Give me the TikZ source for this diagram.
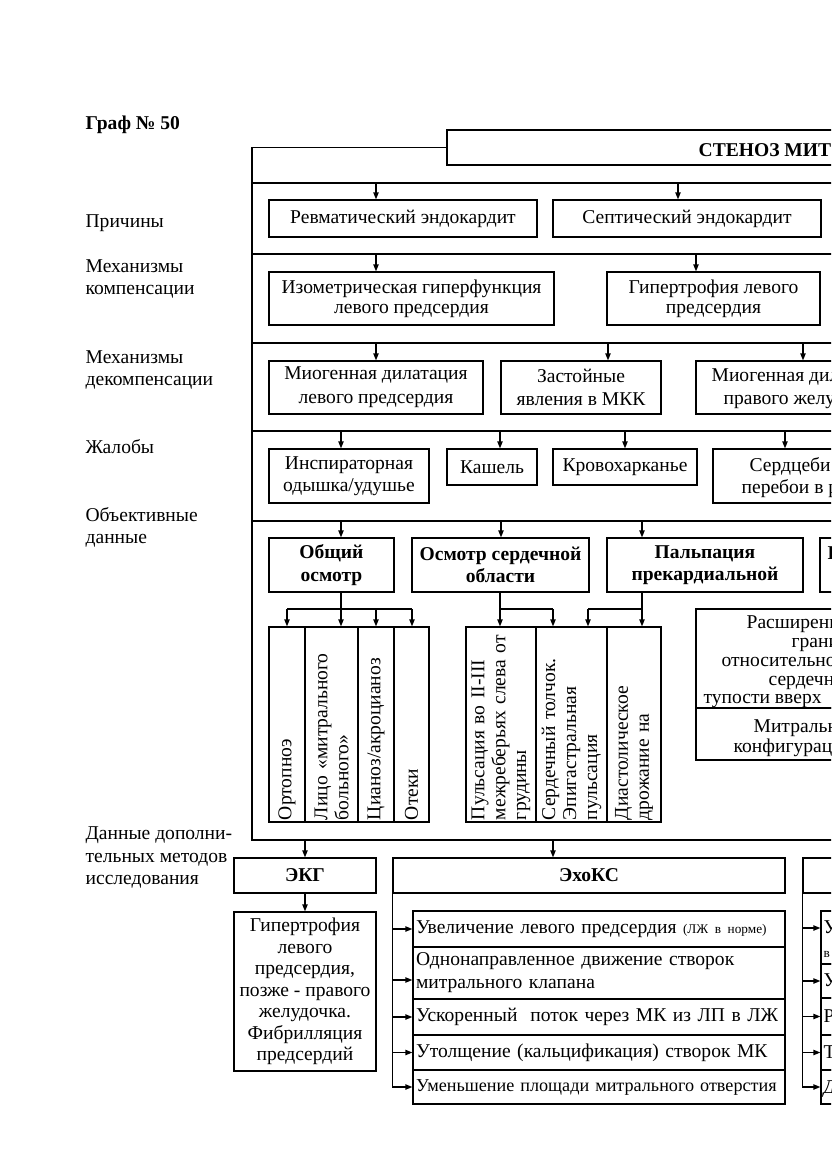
\documentclass[tikz,border=0pt]{standalone}
\usepackage{fontspec}
\setmainfont{Liberation Serif}[Ligatures=TeX]
\usetikzlibrary{arrows.meta}
\newcommand{\fsN}{\fontsize{14}{15.8}\selectfont}
\newcommand{\fsS}{\fontsize{14}{14.3}\selectfont}
\newcommand{\fsT}{\fontsize{14}{17}\selectfont}
\newcommand{\fsB}{\bfseries\fontsize{14}{16.2}\selectfont}
\newcommand{\fsE}{\fontsize{14}{15.4}\selectfont}
\newcommand{\fsR}{\fontsize{14}{15}\selectfont}
\newcommand{\bx}[7][]{%
  \pgfmathsetlengthmacro{\bxw}{(#5-#3)*0.716pt}%
  \pgfmathsetlengthmacro{\bxh}{(#6-#4)*0.716pt}%
  \node[boxst,minimum width=\bxw,minimum height=\bxh,#1] (#2) at ({(#3+#5)/2},{(#4+#6)/2}) {#7};}
\newcommand{\bxl}[7][]{%
  \pgfmathsetlengthmacro{\bxw}{(#5-#3)*0.716pt}%
  \pgfmathsetlengthmacro{\bxh}{(#6-#4)*0.716pt}%
  \pgfmathsetlengthmacro{\bxt}{(#5-#3-6)*0.716pt}%
  \node[boxst,align=left,minimum width=\bxw,minimum height=\bxh,text width=\bxt,#1] (#2) at ({(#3+#5)/2},{(#4+#6)/2}) {#7};}
\newcommand{\rtx}[4]{%
  \pgfmathsetlengthmacro{\bxt}{(#3)*0.716pt}%
  \node[rot,text width=\bxt] (#1) at (#2.center) {#4};}
\newcommand{\dar}[3]{\coordinate (#1) at (#2); \draw[arr] (#1) -- (#1 |- #3.north);}
\newcommand{\lab}[3]{\node[txt] (#1) at (#2) {#3};}
\begin{document}
\begin{tikzpicture}[x=0.716pt,y=-0.716pt,line width=0.9pt,
  boxst/.style={draw,line width=0.9pt,inner sep=0pt,align=center,font=\fsN},
  arr/.style={-{Triangle[length=5pt,width=3.8pt]}},
  txt/.style={anchor=base west,inner sep=0pt,font=\fsN},
  rot/.style={rotate=90,align=left,inner sep=0pt,font=\fsR}]
\useasboundingbox (0,0) rectangle (831,1174);
\clip (0,0) rectangle (831,1174);
\fill[white] (0,0) rectangle (831,1174);

% heading and row labels
\node[txt,font=\fsB] (graf) at (85,129) {Граф № 50};
\lab{l1}{85,227}{Причины}
\lab{l2a}{85,272}{Механизмы}
\lab{l2b}{85,294}{компенсации}
\lab{l3a}{85,363}{Механизмы}
\lab{l3b}{85,385}{декомпенсации}
\lab{l4}{85,453}{Жалобы}
\lab{l5a}{85,521}{Объективные}
\lab{l5b}{85,543}{данные}
\lab{l6a}{85,839}{Данные дополни-}
\lab{l6b}{85,862}{тельных методов}
\lab{l6c}{85,884}{исследования}

% title box and frame
\bx{title}{447}{130}{1300}{165}{}
\node[txt,font=\fsB] (titletext) at (698,156) {СТЕНОЗ МИТ};
\coordinate (fTL) at (252,147.5);
\coordinate (fBL) at (252,840);
\coordinate (fBR) at (1300,840);
\draw (title.west) -- (fTL) -- (fBL) -- (fBR);
\foreach \yy in {183,254,343,431,521} \draw (252,\yy) -- (1300,\yy);

% row 1
\bx{r1a}{269}{200}{537}{237}{Ревматический эндокардит}
\bx{r1b}{553}{200}{821}{237}{Септический эндокардит}
\dar{p1a}{376,183}{r1a}
\dar{p1b}{678,183}{r1b}

% row 2
\bx[font=\fsS]{r2a}{269}{272}{554}{325}{Изометрическая гиперфункция\\левого предсердия}
\bx[font=\fsS]{r2b}{607}{272}{820}{325}{Гипертрофия левого\\предсердия}
\dar{p2a}{376,254}{r2a}
\dar{p2b}{696,254}{r2b}

% row 3
\bx[font=\fsT]{r3a}{269}{361}{483}{414}{Миогенная дилатация\\левого предсердия}
\bx[font=\fsT]{r3b}{501}{361}{661}{414}{Застойные\\явления в МКК}
\bx{r3c}{696}{361}{1300}{414}{}
\node[txt] (r3ct1) at (711,381) {Миогенная дил};
\node[txt] (r3ct2) at (723,404) {правого желу};
\dar{p3a}{376,343}{r3a}
\dar{p3b}{608,343}{r3b}
\dar{p3c}{803,343}{r3c}

% row 4
\bx{r4a}{269}{449}{429}{503}{Инспираторная\\одышка/удушье}
\bx{r4b}{447}{449}{537}{485}{Кашель}
\bx{r4c}{553}{449}{697}{485}{Кровохарканье}
\bx{r4d}{713}{449}{1300}{503}{}
\node[txt] (r4dt1) at (749,471) {Сердцеби};
\node[txt] (r4dt2) at (741,493) {перебои в р};
\dar{p4a}{341,431}{r4a}
\dar{p4b}{500,431}{r4b}
\dar{p4c}{625,431}{r4c}
\dar{p4d}{785,431}{r4d}

% row 5
\bx[font=\fsB]{r5a}{269}{538}{394}{592}{Общий\\осмотр}
\bx[font=\fsB]{r5b}{412}{538}{589}{592}{Осмотр сердечной\\области}
\bx[font=\fsB]{r5c}{607}{538}{803}{592}{Пальпация\\прекардиальной}
\bx{r5d}{820}{538}{1300}{592}{}
\node[txt,font=\fsB] (r5dt) at (827,559) {П};
\dar{p5a}{341,521}{r5a}
\dar{p5b}{501,521}{r5b}
\dar{p5c}{642,521}{r5c}

% columns under general examination
\bx{cA1}{269}{627}{305}{822}{}
\bx{cA2}{305}{627}{358}{822}{}
\bx{cA3}{358}{627}{394}{822}{}
\bx{cA4}{394}{627}{429}{822}{}
\rtx{tA1}{cA1}{191}{Ортопноэ}
\rtx{tA2}{cA2}{191}{Лицо «митрального\\больного»}
\rtx{tA3}{cA3}{191}{Цианоз/акроцианоз}
\rtx{tA4}{cA4}{191}{Отеки}
% columns under inspection / palpation
\bx{cB1}{466}{627}{536}{822}{}
\bx{cB2}{536}{627}{607}{822}{}
\bx{cB3}{607}{627}{661}{822}{}
\rtx{tB1}{cB1}{191}{Пульсация во II-III\\межреберьях слева от\\грудины}
\rtx{tB2}{cB2}{191}{Сердечный толчок.\\Эпигастральная\\пульсация}
\rtx{tB3}{cB3}{191}{Диастолическое\\дрожание на}

% bus A
\coordinate (tA) at (341,609);
\draw (tA |- r5a.south) -- (tA);
\coordinate (bA1) at (287,609);
\coordinate (bA3) at (376,609);
\coordinate (bA4) at (412,609);
\draw (bA1) -- (bA4);
\draw[arr] (bA1) -- (bA1 |- cA1.north);
\draw[arr] (tA) -- (tA |- cA2.north);
\draw[arr] (bA3) -- (bA3 |- cA3.north);
\draw[arr] (bA4) -- (bA4 |- cA4.north);
% bus B
\coordinate (tB) at (500,609);
\coordinate (bB2) at (553,609);
\draw (tB |- r5b.south) -- (tB) -- (bB2);
\draw[arr] (tB) -- (tB |- cB1.north);
\draw[arr] (bB2) -- (bB2 |- cB2.north);
% bus C
\coordinate (tC) at (642,609);
\coordinate (bC1) at (588,609);
\draw (tC |- r5c.south) -- (tC) -- (bC1);
\draw[arr] (bC1) -- (bC1 |- cB2.north);
\draw[arr] (tC) -- (tC |- cB3.north);

% percussion results (cut)
\bx{ras}{696}{609}{1300}{708}{}
\bx{mit}{696}{708}{1300}{760}{}
\node[txt] (ras1) at (746,628) {Расширени};
\node[txt] (ras2) at (791,647) {грани};
\node[txt] (ras3) at (721,666) {относительно};
\node[txt] (ras4) at (768,685) {сердечно};
\node[txt] (ras5) at (703,703) {тупости вверх};
\node[txt] (mit1) at (753,732) {Митральн};
\node[txt] (mit2) at (733,752) {конфигурац};

% additional methods
\bx[font=\fsB]{ekg}{234}{858}{376}{893}{ЭКГ}
\bx[font=\fsE]{ekgr}{234}{912}{376}{1071}{Гипертрофия\\левого\\предсердия,\\позже - правого\\желудочка.\\Фибрилляция\\предсердий}
\bx[font=\fsB]{echo}{393}{858}{785}{893}{ЭхоКС}
\bx{thr}{803}{858}{1300}{893}{}
\coordinate (q1) at (305,840);
\coordinate (q2) at (553,840);
\draw[arr] (q1) -- (q1 |- ekg.north);
\draw[arr] (q2) -- (q2 |- echo.north);
\draw[arr] (ekg) -- (ekgr);

% echo items
\bxl{e1}{413}{911}{785}{947}{\mbox{Увеличение левого предсердия {\fontsize{9.5}{11}\selectfont(ЛЖ в норме)}}}
\bxl[font=\fontsize{14}{16.5}\selectfont]{e2}{413}{947}{785}{999}{Однонаправленное движение створок\\митрального клапана}
\bxl{e3}{413}{999}{785}{1035}{\mbox{Ускоренный\ \ поток через МК из ЛП в ЛЖ}}
\bxl{e4}{413}{1035}{785}{1070}{\mbox{Утолщение (кальцификация) створок МК}}
\bxl[font=\fontsize{13}{15}\selectfont]{e5}{413}{1070}{785}{1104}{\mbox{Уменьшение площади митрального отверстия}}
\coordinate (e2a) at ([yshift=-5pt]e2.west);
\draw[arr] (echo.south west) |- (e5.west);
\draw[arr] (echo.south west |- e1.west) -- (e1.west);
\draw[arr] (echo.south west |- e2a) -- (e2a);
\draw[arr] (echo.south west |- e3.west) -- (e3.west);
\draw[arr] (echo.south west |- e4.west) -- (e4.west);

% third method items (cut)
\bx{f1}{821}{911}{1300}{964}{}
\bx{f2}{821}{964}{1300}{998}{}
\bx{f3}{821}{998}{1300}{1035}{}
\bx{f4}{821}{1035}{1300}{1070}{}
\bx{f5}{821}{1070}{1300}{1104}{}
\coordinate (f1a) at ([yshift=6.8pt]f1.west);
\draw[arr] (thr.south west) |- (f5.west);
\draw[arr] (thr.south west |- f1a) -- (f1a);
\draw[arr] (thr.south west |- f2.west) -- (f2.west);
\draw[arr] (thr.south west |- f3.west) -- (f3.west);
\draw[arr] (thr.south west |- f4.west) -- (f4.west);
\node[txt] (f1t) at (823,933) {У};
\node[txt,font=\fontsize{9.5}{11}\selectfont] (f1u) at (823,957) {в};
\node[txt] (f2t) at (823,986) {У};
\node[txt] (f3t) at (823,1022) {Р};
\node[txt] (f4t) at (823,1058) {Т};
\node[txt,font=\fsN\itshape] (f5t) at (823,1093) {Д};
\end{tikzpicture}
\end{document}
